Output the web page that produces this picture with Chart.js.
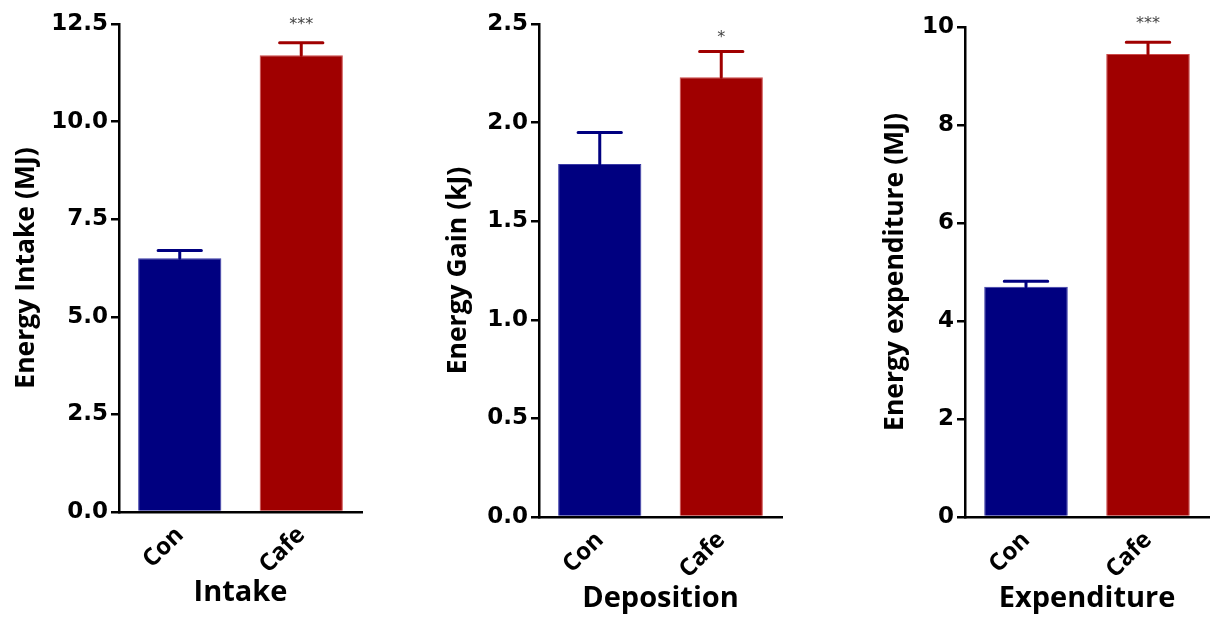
<!DOCTYPE html>
<html>
<head>
<meta charset="utf-8">
<script src="https://cdn.jsdelivr.net/npm/chart.js@4.4.1/dist/chart.umd.min.js"></script>
<style>
  html, body { margin: 0; padding: 0; background: #fff; }
  body { width: 1213px; height: 625px; position: relative; overflow: hidden; }
  .panel { position: absolute; top: 0; height: 625px; }
</style>
</head>
<body>
<div class="panel" style="left:0px;width:370px"><canvas id="intakeChart"></canvas></div>
<div class="panel" style="left:420px;width:370px"><canvas id="gainChart"></canvas></div>
<div class="panel" style="left:846px;width:367px"><canvas id="expChart"></canvas></div>
<script>
const groups = ['Con', 'Cafe'];

const intakeMean = [6.5, 11.7];
const intakeSem = [0.2, 0.32];
const intakeSig = ['', '***'];
const intakeTicks = { min: 0, max: 12.5, step: 2.5 };

const gainMean = [1.79, 2.23];
const gainSem = [0.16, 0.13];
const gainSig = ['', '*'];
const gainTicks = { min: 0, max: 2.5, step: 0.5 };

const expMean = [4.7, 9.45];
const expSem = [0.11, 0.24];
const expSig = ['', '***'];
const expTicks = { min: 0, max: 10, step: 2 };

const barColors = ['#000080', '#a00000'];
const barEdges = ['#3a3aa6', '#cc4a4a'];

// error bars (upper only) + significance stars
const errorBarPlugin = {
    id: 'errorBars',
    afterDatasetsDraw(chart, args, opts) {
        const ctx = chart.ctx;
        const yScale = chart.scales.y;
        const meta = chart.getDatasetMeta(0);
        meta.data.forEach((bar, i) => {
            const top = yScale.getPixelForValue(opts.mean[i] + opts.sem[i]);
            const capHalf = bar.width * 0.26;
            ctx.save();
            ctx.strokeStyle = barColors[i];
            ctx.lineWidth = 3;
            ctx.lineCap = 'round';
            ctx.beginPath();
            ctx.moveTo(bar.x, bar.y);
            ctx.lineTo(bar.x, top);
            ctx.moveTo(bar.x - capHalf, top);
            ctx.lineTo(bar.x + capHalf, top);
            ctx.stroke();
            if (opts.sig[i]) {
                ctx.fillStyle = '#444';
                ctx.font = '16px "DejaVu Sans"';
                ctx.textAlign = 'center';
                ctx.textBaseline = 'alphabetic';
                ctx.fillText(opts.sig[i], bar.x, top - opts.sigGap);
            }
            ctx.restore();
        });
    }
};

function makePanel(id, mean, sem, sig, sigGap, ticks, yTitle, xTitle, titlePad, top, bottom, padBottom, padRight) {
    new Chart(document.getElementById(id), {
        type: 'bar',
        data: {
            labels: groups,
            datasets: [{
                data: mean,
                backgroundColor: barColors,
                borderColor: barEdges,
                borderWidth: 1,
                borderSkipped: 'bottom',
                categoryPercentage: 1,
                barPercentage: 0.685
            }]
        },
        options: {
            responsive: true, maintainAspectRatio: false, animation: false,
            layout: { padding: { top: top, bottom: padBottom, left: 0, right: padRight } },
            plugins: {
                legend: { display: false },
                tooltip: { enabled: false },
                errorBars: { mean: mean, sem: sem, sig: sig, sigGap: sigGap }
            },
            scales: {
                x: {
                    grid: { display: false, drawTicks: false },
                    border: { display: true, color: '#000', width: 2.5 },
                    ticks: {
                        color: '#000', minRotation: 45, maxRotation: 45, padding: 9,
                        font: { family: 'Open Sans', weight: 'bold', size: 24 }
                    },
                    title: {
                        display: true, text: xTitle, color: '#000', padding: 0,
                        font: { family: 'Open Sans', weight: 'bold', size: 29 }
                    },
                    afterFit: s => { s.height = 625 - padBottom - bottom; }
                },
                y: {
                    min: ticks.min, max: ticks.max,
                    grid: { display: true, drawOnChartArea: false, drawTicks: true, tickLength: 8, color: '#000', lineWidth: 2.5 },
                    border: { display: true, color: '#000', width: 2.5 },
                    ticks: {
                        stepSize: ticks.step, color: '#000', padding: 3,
                        font: { family: 'DejaVu Sans', weight: 'bold', size: 23 },
                        callback: v => ticks.step < 1 || ticks.max % 1 ? v.toFixed(1) : v
                    },
                    title: {
                        display: true, text: yTitle, color: '#000', padding: { top: titlePad, bottom: 0 },
                        font: { family: 'Open Sans', weight: 'bold', size: 26.5 }
                    },
                    afterFit: s => { s.width = 119; }
                }
            }
        },
        plugins: [errorBarPlugin]
    });
}

makePanel('intakeChart', intakeMean, intakeSem, intakeSig, 14, intakeTicks, 'Energy Intake (MJ)', 'Intake', 11, 24, 512, 15, 8);
makePanel('gainChart', gainMean, gainSem, gainSig, 10, gainTicks, 'Energy Gain (kJ)', 'Deposition', 23, 24, 517, 9, 8);
makePanel('expChart', expMean, expSem, expSig, 14, expTicks, 'Energy expenditure (MJ)', 'Expenditure', 34, 27, 517, 9, 4);
</script>
</body>
</html>
